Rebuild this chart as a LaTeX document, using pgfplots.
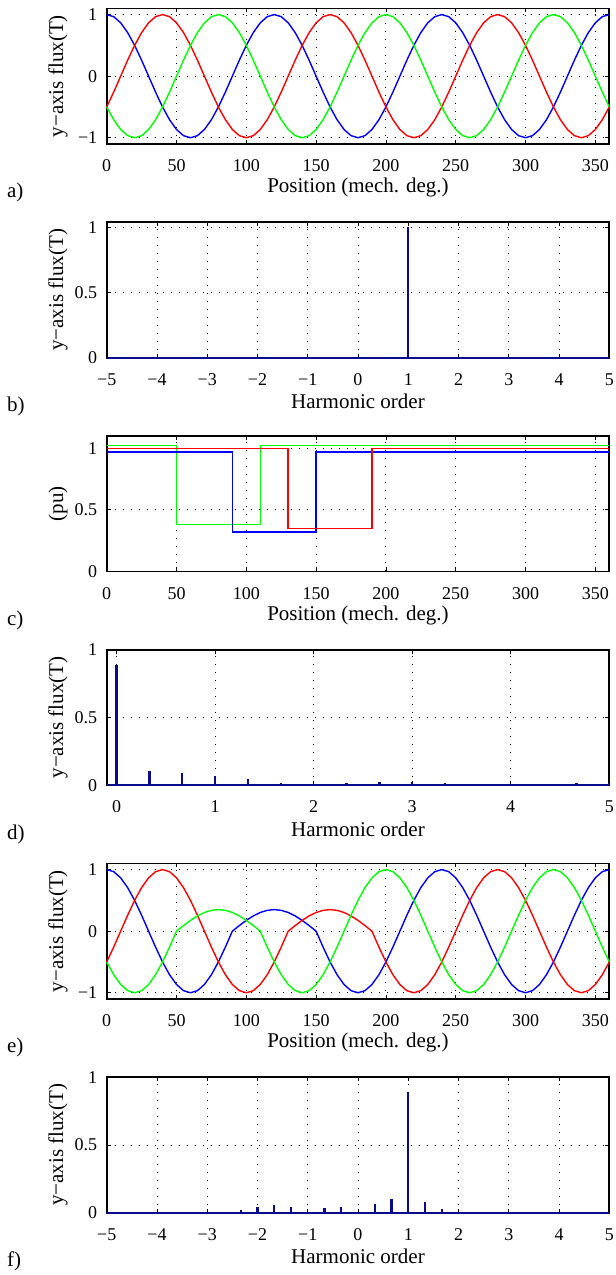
\documentclass[border=0pt]{standalone}
\usepackage{fontspec}
\setmainfont{Liberation Serif}
\usepackage{pgfplots}
\usepackage{pgfplotstable}
\pgfplotsset{compat=1.18}
\definecolor{stemblue}{RGB}{10,10,140}

% panel a: healthy flux, x = position (deg), b/r/g = phase curves
\pgfplotstableread{
x b r g
0 1 -0.5 -0.5
5 0.9659 -0.2588 -0.7071
10 0.8660 0 -0.8660
15 0.7071 0.2588 -0.9659
20 0.5 0.5 -1
25 0.2588 0.7071 -0.9659
30 0 0.8660 -0.8660
35 -0.2588 0.9659 -0.7071
40 -0.5 1 -0.5
45 -0.7071 0.9659 -0.2588
50 -0.8660 0.8660 0
55 -0.9659 0.7071 0.2588
60 -1 0.5 0.5
65 -0.9659 0.2588 0.7071
70 -0.8660 0 0.8660
75 -0.7071 -0.2588 0.9659
80 -0.5 -0.5 1
85 -0.2588 -0.7071 0.9659
90 0 -0.8660 0.8660
95 0.2588 -0.9659 0.7071
100 0.5 -1 0.5
105 0.7071 -0.9659 0.2588
110 0.8660 -0.8660 0
115 0.9659 -0.7071 -0.2588
120 1 -0.5 -0.5
125 0.9659 -0.2588 -0.7071
130 0.8660 0 -0.8660
135 0.7071 0.2588 -0.9659
140 0.5 0.5 -1
145 0.2588 0.7071 -0.9659
150 0 0.8660 -0.8660
155 -0.2588 0.9659 -0.7071
160 -0.5 1 -0.5
165 -0.7071 0.9659 -0.2588
170 -0.8660 0.8660 0
175 -0.9659 0.7071 0.2588
180 -1 0.5 0.5
185 -0.9659 0.2588 0.7071
190 -0.8660 0 0.8660
195 -0.7071 -0.2588 0.9659
200 -0.5 -0.5 1
205 -0.2588 -0.7071 0.9659
210 0 -0.8660 0.8660
215 0.2588 -0.9659 0.7071
220 0.5 -1 0.5
225 0.7071 -0.9659 0.2588
230 0.8660 -0.8660 0
235 0.9659 -0.7071 -0.2588
240 1 -0.5 -0.5
245 0.9659 -0.2588 -0.7071
250 0.8660 0 -0.8660
255 0.7071 0.2588 -0.9659
260 0.5 0.5 -1
265 0.2588 0.7071 -0.9659
270 0 0.8660 -0.8660
275 -0.2588 0.9659 -0.7071
280 -0.5 1 -0.5
285 -0.7071 0.9659 -0.2588
290 -0.8660 0.8660 0
295 -0.9659 0.7071 0.2588
300 -1 0.5 0.5
305 -0.9659 0.2588 0.7071
310 -0.8660 0 0.8660
315 -0.7071 -0.2588 0.9659
320 -0.5 -0.5 1
325 -0.2588 -0.7071 0.9659
330 0 -0.8660 0.8660
335 0.2588 -0.9659 0.7071
340 0.5 -1 0.5
345 0.7071 -0.9659 0.2588
350 0.8660 -0.8660 0
355 0.9659 -0.7071 -0.2588
360 1 -0.5 -0.5
}\tabA

% panel e: faulty flux, reduced humps
\pgfplotstableread{
x b r g
0 1 -0.5 -0.5
5 0.9659 -0.2588 -0.7071
10 0.8660 0 -0.8660
15 0.7071 0.2588 -0.9659
20 0.5 0.5 -1
25 0.2588 0.7071 -0.9659
30 0 0.8660 -0.8660
35 -0.2588 0.9659 -0.7071
40 -0.5 1 -0.5
45 -0.7071 0.9659 -0.2588
50 -0.8660 0.8660 0
55 -0.9659 0.7071 0.0906
60 -1 0.5 0.175
65 -0.9659 0.2588 0.2475
70 -0.8660 0 0.3031
75 -0.7071 -0.2588 0.3381
80 -0.5 -0.5 0.35
85 -0.2588 -0.7071 0.3381
90 0 -0.8660 0.3031
95 0.0906 -0.9659 0.2475
100 0.175 -1 0.175
105 0.2475 -0.9659 0.0906
110 0.3031 -0.8660 0
115 0.3381 -0.7071 -0.2588
120 0.35 -0.5 -0.5
125 0.3381 -0.2588 -0.7071
130 0.3031 0 -0.8660
135 0.2475 0.0906 -0.9659
140 0.175 0.175 -1
145 0.0906 0.2475 -0.9659
150 0 0.3031 -0.8660
155 -0.2588 0.3381 -0.7071
160 -0.5 0.35 -0.5
165 -0.7071 0.3381 -0.2588
170 -0.8660 0.3031 0
175 -0.9659 0.2475 0.2588
180 -1 0.175 0.5
185 -0.9659 0.0906 0.7071
190 -0.8660 0 0.8660
195 -0.7071 -0.2588 0.9659
200 -0.5 -0.5 1
205 -0.2588 -0.7071 0.9659
210 0 -0.8660 0.8660
215 0.2588 -0.9659 0.7071
220 0.5 -1 0.5
225 0.7071 -0.9659 0.2588
230 0.8660 -0.8660 0
235 0.9659 -0.7071 -0.2588
240 1 -0.5 -0.5
245 0.9659 -0.2588 -0.7071
250 0.8660 0 -0.8660
255 0.7071 0.2588 -0.9659
260 0.5 0.5 -1
265 0.2588 0.7071 -0.9659
270 0 0.8660 -0.8660
275 -0.2588 0.9659 -0.7071
280 -0.5 1 -0.5
285 -0.7071 0.9659 -0.2588
290 -0.8660 0.8660 0
295 -0.9659 0.7071 0.2588
300 -1 0.5 0.5
305 -0.9659 0.2588 0.7071
310 -0.8660 0 0.8660
315 -0.7071 -0.2588 0.9659
320 -0.5 -0.5 1
325 -0.2588 -0.7071 0.9659
330 0 -0.8660 0.8660
335 0.2588 -0.9659 0.7071
340 0.5 -1 0.5
345 0.7071 -0.9659 0.2588
350 0.8660 -0.8660 0
355 0.9659 -0.7071 -0.2588
360 1 -0.5 -0.5
}\tabE

\pgfplotsset{
  panel/.style={
    scale only axis, width=251.3pt, height=67.75pt, anchor=south west,
    axis line style={line width=0.8pt}, clip=false,
    tick align=inside, major tick length=2pt,
    every tick/.style={black, line width=0.4pt},
    grid=major,
    grid style={black, line width=0.45pt, dash pattern=on 0.5pt off 3.5pt},
    /pgf/number format/assume math mode=true,
    ticklabel style={font=\fontsize{9}{10}\selectfont},
    x tick label style={yshift=-4.3pt},
    y tick label style={xshift=-1.2pt},
    label style={font=\fontsize{10.5}{12}\selectfont},
    xlabel style={at={(axis description cs:0.5,-0.325)}, anchor=center},
    ylabel style={at={(axis description cs:-0.0969,0.5)}, anchor=center},
  },
  wave/.style={line width=0.7pt},
  stem/.style={stemblue, ycomb, line width=1.2pt},
  base/.style={stemblue, line width=0.8pt},
}

\begin{document}
\begin{tikzpicture}
  % a)
  \begin{axis}[panel, at={(53.35pt,-71.95pt)},
      xmin=0, xmax=360, ymin=-1.1, ymax=1.1,
      xtick={0,50,...,350}, ytick={-1,0,1}, yticklabels={−1,0,1},
      xlabel={Position (mech. deg.)}, ylabel={y−axis flux(T)}]
    \addplot[blue, wave] table[x=x, y=b] {\tabA};
    \addplot[red, wave] table[x=x, y=r] {\tabA};
    \addplot[green, wave] table[x=x, y=g] {\tabA};
  \end{axis}

  % b)
  \begin{axis}[panel, at={(53.35pt,-178.85pt)},
      xmin=-5, xmax=5, ymin=0, ymax=1.04,
      xtick={-5,...,5}, xticklabels={−5,−4,−3,−2,−1,0,1,2,3,4,5},
      ytick={0,0.5,1},
      xlabel={Harmonic order}, ylabel={y−axis flux(T)}]
    \addplot[base] coordinates {(-5,0) (5,0)};
    \addplot[stem, line width=1pt] coordinates {(1,1)};
  \end{axis}

  % c)
  \begin{axis}[panel, at={(53.35pt,-285.7pt)},
      xmin=0, xmax=360, ymin=0, ymax=1.1,
      xtick={0,50,...,350}, ytick={0,0.5,1},
      xlabel={Position (mech. deg.)}, ylabel={(pu)}]
    \addplot[green, wave] coordinates {(0,1.02) (50,1.02) (50,0.38) (110,0.38) (110,1.02) (360,1.02)};
    \addplot[blue, wave] coordinates {(0,0.97) (90,0.97) (90,0.32) (150,0.32) (150,0.97) (360,0.97)};
    \addplot[red, wave] coordinates {(0,1.0) (130,1.0) (130,0.35) (190,0.35) (190,1.0) (360,1.0)};
  \end{axis}

  % d)
  \begin{axis}[panel, at={(53.35pt,-392.6pt)},
      xmin=-0.1, xmax=5, ymin=0, ymax=1,
      xtick={0,...,5}, ytick={0,0.5,1},
      xlabel={Harmonic order}, ylabel={y−axis flux(T)}]
    \addplot[base] coordinates {(-0.1,0) (5,0)};
    \addplot[stem] coordinates {
      (0,0.89) (0.3333,0.103) (0.6667,0.09) (1,0.069) (1.3333,0.044)
      (1.6667,0.02) (2,0.003) (2.3333,0.015) (2.6667,0.022) (3,0.027)
      (3.3333,0.02) (3.6667,0.01) (4,0.003) (4.3333,0.01) (4.6667,0.015) (5,0.017)};
  \end{axis}

  % e)
  \begin{axis}[panel, at={(53.35pt,-499.45pt)},
      xmin=0, xmax=360, ymin=-1.1, ymax=1.1,
      xtick={0,50,...,350}, ytick={-1,0,1}, yticklabels={−1,0,1},
      xlabel={Position (mech. deg.)}, ylabel={y−axis flux(T)}]
    \addplot[blue, wave] table[x=x, y=b] {\tabE};
    \addplot[red, wave] table[x=x, y=r] {\tabE};
    \addplot[green, wave] table[x=x, y=g] {\tabE};
  \end{axis}

  % f)
  \begin{axis}[panel, at={(53.35pt,-606.35pt)},
      xmin=-5, xmax=5, ymin=0, ymax=1,
      xtick={-5,...,5}, xticklabels={−5,−4,−3,−2,−1,0,1,2,3,4,5},
      ytick={0,0.5,1},
      xlabel={Harmonic order}, ylabel={y−axis flux(T)}]
    \addplot[base] coordinates {(-5,0) (5,0)};
    \addplot[stem] coordinates {
      (-5,0.002) (-4.6667,0.003) (-4.3333,0.004) (-4,0.002) (-3.6667,0.002)
      (-3.3333,0.002) (-3,0.003) (-2.6667,0.007) (-2.3333,0.02) (-2,0.044)
      (-1.6667,0.057) (-1.3333,0.04) (-1,0.002) (-0.6667,0.037) (-0.3333,0.04)
      (0,0.002) (0.3333,0.062) (0.6667,0.104) (1,0.89) (1.3333,0.077)
      (1.6667,0.027) (2,0.002) (2.3333,0.006) (2.6667,0.005) (3,0.002)
      (3.3333,0.002) (3.6667,0.006) (4,0.002) (4.3333,0.006) (4.6667,0.002) (5,0.002)};
  \end{axis}

  % panel letters
  \begin{scope}[every node/.style={anchor=west, inner sep=0pt, font=\fontsize{10.5}{12}\selectfont}]
    \node at (3.35pt,-96.45pt) {a)};
    \node at (3.35pt,-203.35pt) {b)};
    \node at (3.35pt,-310.2pt) {c)};
    \node at (3.35pt,-417.1pt) {d)};
    \node at (3.35pt,-523.95pt) {e)};
    \node at (3.35pt,-630.85pt) {f)};
  \end{scope}

  \pgfresetboundingbox
  \path[use as bounding box] (0,0) rectangle (308pt,-637.5pt);
\end{tikzpicture}
\end{document}
